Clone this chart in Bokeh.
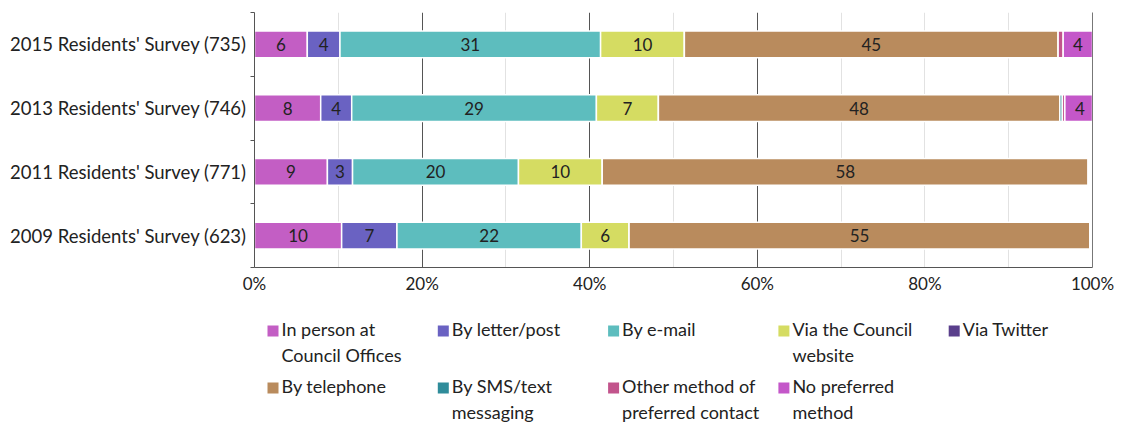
import numpy as np
from bokeh.plotting import figure
from bokeh.layouts import column
from bokeh.models import (ColumnDataSource, Range1d, FixedTicker, LinearAxis, Grid,
                          CustomJSTickFormatter)
from bokeh.core.properties import value
from bokeh.embed import file_html
from bokeh.resources import INLINE

# ---- data ----
surveys = ["2009 Residents' Survey (623)", "2011 Residents' Survey (771)",
           "2013 Residents' Survey (746)", "2015 Residents' Survey (735)"]
series = ["In person at\nCouncil Offices", "By letter/post", "By e-mail",
          "Via the Council\nwebsite", "Via Twitter", "By telephone",
          "By SMS/text\nmessaging", "Other method of\npreferred contact",
          "No preferred\nmethod"]
colors = ["#C35EC4", "#6A62C2", "#5DBDBE", "#D5DC62", "#5A3F8C", "#B98B5D",
          "#2F8C9A", "#C2548C", "#C457C9"]
# values per series, ordered as surveys (2009, 2011, 2013, 2015)
in_person = [10.4, 8.7, 7.9, 6.3]
letter = [6.6, 3.0, 3.7, 3.9]
email = [22.0, 19.8, 29.2, 31.1]
website = [5.7, 10.0, 7.4, 10.0]
twitter = [0.0, 0.0, 0.0, 0.0]
telephone = [55.0, 58.0, 47.9, 44.6]
sms = [0.0, 0.0, 0.3, 0.0]
other = [0.0, 0.0, 0.3, 0.6]
no_pref = [0.0, 0.0, 3.6, 3.5]
all_vals = [in_person, letter, email, website, twitter, telephone, sms, other, no_pref]
x_ticks = [0, 20, 40, 60, 80, 100]

FONT = "Lato"
FS = "17px"
LEFT, FW, RIGHT = 254, 838, 25

p = figure(frame_width=FW, frame_height=255, output_backend="svg", toolbar_location=None,
           x_range=Range1d(0, 100), y_range=Range1d(0, len(surveys)),
           min_border_left=LEFT, min_border_right=RIGHT, min_border_top=12,
           min_border_bottom=35, outline_line_color=None)

ypos = np.arange(len(surveys)) + 0.5
cum = np.zeros(len(surveys))
for name, vals, col in zip(series, all_vals, colors):
    v = np.array(vals)
    left = cum.copy()
    right = cum + v
    lbl = [str(int(x + 0.5)) if x >= 2 else "" for x in v]
    src = ColumnDataSource(dict(y=ypos, left=left, right=right,
                                mid=(left + right) / 2, lbl=lbl))
    p.hbar(y="y", left="left", right="right", height=0.42, source=src,
           fill_color=col, line_color="white", line_width=1.5)
    p.text(x="mid", y="y", text="lbl", source=src, text_align="center",
           text_baseline="middle", text_font=value(FONT), text_font_size=FS,
           text_color="#222222")
    cum = right

# x axis
p.xaxis.ticker = FixedTicker(ticks=x_ticks)
p.xaxis.formatter = CustomJSTickFormatter(code="return tick + '%';")
p.xaxis.major_label_text_font = FONT
p.xaxis.major_label_text_font_size = FS
p.xaxis.major_label_text_color = "#222222"
p.xaxis.axis_line_color = "#555555"
p.xaxis.major_tick_line_color = "#555555"
p.xaxis.major_tick_in = 0
p.xaxis.major_tick_out = 0
p.xaxis.minor_tick_line_color = None
p.xaxis.major_label_standoff = 5

# y axis: labels at centers, ticks at boundaries
p.yaxis.ticker = FixedTicker(ticks=list(ypos), minor_ticks=list(range(len(surveys) + 1)))
p.yaxis.major_label_overrides = {float(y): s for y, s in zip(ypos, surveys)}
p.yaxis.major_label_text_font = FONT
p.yaxis.major_label_text_font_size = "18.5px"
p.yaxis.major_label_text_color = "#222222"
p.yaxis.axis_line_color = "#555555"
p.yaxis.major_tick_line_color = None
p.yaxis.minor_tick_line_color = "#555555"
p.yaxis.minor_tick_out = 4
p.yaxis.minor_tick_in = 0
p.yaxis.major_label_standoff = 2

# right border
rax = LinearAxis(ticker=FixedTicker(ticks=[]), major_label_text_font_size="0px",
                 axis_line_color="#777777")
p.add_layout(rax, "right")

# grids
p.ygrid.visible = False
p.xgrid.ticker = FixedTicker(ticks=[20, 40, 60])
p.xgrid.grid_line_color = "#555555"
p.xgrid.grid_line_width = 1
p.add_layout(Grid(dimension=0, ticker=FixedTicker(ticks=[10, 30, 50, 70, 80, 90]),
                  grid_line_color="#e2e2e2", grid_line_width=1), "center")

# ---- legend panel (page-pixel coordinates, y downward) ----
LH = 120
lg = figure(frame_width=FW, frame_height=LH, output_backend="svg", toolbar_location=None,
            x_range=Range1d(LEFT, LEFT + FW), y_range=Range1d(LH, 0),
            min_border_left=LEFT, min_border_right=RIGHT, min_border_top=0,
            min_border_bottom=0, outline_line_color=None)
lg.axis.visible = False
lg.grid.visible = False

ncol = 5
col_x0, col_dx = 267, 170.3
row_y0, row_dy = 15, 57
idx = np.arange(len(series))
cols_i = idx % ncol
rows_i = idx // ncol
sq_x = col_x0 + cols_i * col_dx
txt_top = row_y0 + rows_i * row_dy
lsrc = ColumnDataSource(dict(sx=sq_x + 5.5, sy=txt_top + 13.5, tx=sq_x + 14,
                             ty=txt_top, label=series, color=colors))
lg.scatter(x="sx", y="sy", marker="square", size=11, fill_color="color",
           line_color=None, source=lsrc)
lg.text(x="tx", y="ty", text="label", source=lsrc, text_align="left",
        text_baseline="top", text_font=value(FONT), text_font_size="18px",
        text_line_height=1.2, text_color="#222222")

open("out.html", "w").write(file_html(column(p, lg), INLINE))
